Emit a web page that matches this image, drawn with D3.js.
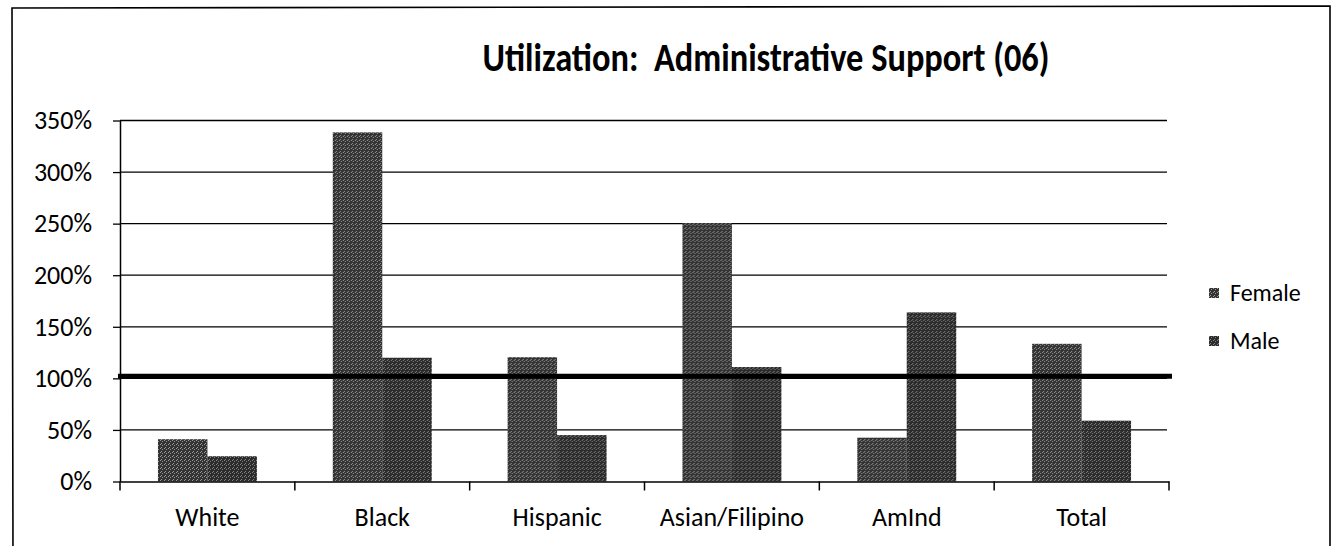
<!DOCTYPE html>
<html>
<head>
<meta charset="utf-8">
<script src="https://cdn.jsdelivr.net/npm/d3@7"></script>
<style>
  body { margin: 0; background: #fff; }
  svg { display: block; }
  text { font-family: Carlito, Calibri, Lato, "Open Sans", sans-serif; fill: #000; }
</style>
</head>
<body>
<svg id="chart" width="1333" height="546"></svg>
<script>
// Utilization by group, split by sex
const categories = ["White", "Black", "Hispanic", "Asian/Filipino", "AmInd", "Total"];
const seriesNames = ["Female", "Male"];
const femaleValues = [0.41, 3.385, 1.205, 2.505, 0.425, 1.335];
const maleValues = [0.245, 1.20, 0.45, 1.11, 1.64, 0.59];
const yTickValues = [0, 0.5, 1, 1.5, 2, 2.5, 3, 3.5];
const targetLevel = 1.02;
const titleText = "Utilization:  Administrative Support (06)";

const svg = d3.select("#chart");
const plot = { left: 120, right: 1169, top: 120.5, bottom: 481.5 };
const fontStack = "Carlito, Calibri, Lato, sans-serif";

const x0 = d3.scaleBand().domain(categories).range([plot.left, plot.right]).padding(0);
const x1 = d3.scaleBand().domain(seriesNames)
  .range([x0.bandwidth() * 0.217, x0.bandwidth() * 0.783]).padding(0);
const y = d3.scaleLinear().domain([0, 3.5]).range([plot.bottom, plot.top]);

// stippled fills for the bars
const defs = svg.append("defs");
function stipple(id, base, dot) {
  const p = defs.append("pattern").attr("id", id)
    .attr("patternUnits", "userSpaceOnUse").attr("width", 4).attr("height", 4);
  p.append("rect").attr("width", 4).attr("height", 4).attr("fill", base);
  [[0, 0], [2, 1], [1, 3]].forEach(([dx, dy]) =>
    p.append("rect").attr("x", dx).attr("y", dy).attr("width", 1).attr("height", 1).attr("fill", dot));
}
stipple("fill-Female", "#333333", "#9a9a9a");
stipple("fill-Male", "#2b2b2b", "#858585");

// outer frame
svg.append("path")
  .attr("d", "M13,560 L12,8 L1330,6 L1330,560")
  .attr("fill", "none").attr("stroke", "#000").attr("stroke-width", 1.6);

// title
svg.append("text")
  .attr("x", 766).attr("y", 71)
  .attr("text-anchor", "middle")
  .attr("textLength", 567)
  .attr("lengthAdjust", "spacingAndGlyphs")
  .style("font-weight", "bold")
  .style("white-space", "pre")
  .style("font-size", "41px")
  .style("font-family", fontStack)
  .text(titleText);

// horizontal gridlines
svg.append("g").selectAll("line").data(yTickValues.filter(d => d > 0)).join("line")
  .attr("x1", plot.left).attr("x2", plot.right - 2)
  .attr("y1", d => y(d)).attr("y2", d => y(d))
  .attr("stroke", "#000").attr("stroke-width", 1.3);

// y axis
const yAxis = svg.append("g").attr("transform", `translate(${plot.left},0)`)
  .call(d3.axisLeft(y).tickValues(yTickValues).tickFormat(d3.format(".0%"))
    .tickSizeInner(7).tickSizeOuter(0).tickPadding(21));
yAxis.attr("font-size", null).attr("font-family", null);
yAxis.select(".domain").attr("stroke", "#000").attr("stroke-width", 1.5);
yAxis.selectAll(".tick line").attr("stroke", "#000").attr("stroke-width", 1.3);
yAxis.selectAll("text").style("font-size", "26px").attr("fill", "#000")
  .style("font-family", fontStack);

// bars
const rows = categories.map((c, i) => ({ category: c, Female: femaleValues[i], Male: maleValues[i] }));
svg.append("g").selectAll("g").data(rows).join("g")
  .attr("transform", d => `translate(${x0(d.category)},0)`)
  .selectAll("rect")
  .data(d => seriesNames.map(s => ({ series: s, value: d[s] })))
  .join("rect")
  .attr("x", d => x1(d.series))
  .attr("width", x1.bandwidth())
  .attr("y", d => y(d.value))
  .attr("height", d => y(0) - y(d.value))
  .attr("fill", d => `url(#fill-${d.series})`);

// x axis: baseline, category boundary ticks, centred labels
const xAxis = svg.append("g").attr("transform", `translate(0,${plot.bottom})`)
  .call(d3.axisBottom(x0).tickSize(0).tickPadding(0));
xAxis.attr("font-size", null).attr("font-family", null);
xAxis.select(".domain").attr("stroke", "#000").attr("stroke-width", 1.5);
xAxis.selectAll("text").attr("y", 44).attr("dy", 0)
  .style("font-size", "26px").attr("fill", "#000")
  .style("font-family", fontStack);
const bounds = categories.map(c => x0(c)).concat([x0.range()[1]]);
xAxis.selectAll("line.bound").data(bounds).join("line").attr("class", "bound")
  .attr("x1", d => d).attr("x2", d => d).attr("y1", 0).attr("y2", 9)
  .attr("stroke", "#000").attr("stroke-width", 1.5);

// 100% utilization reference line
svg.append("line")
  .attr("x1", plot.left - 2).attr("x2", plot.right + 3)
  .attr("y1", y(targetLevel)).attr("y2", y(targetLevel))
  .attr("stroke", "#000").attr("stroke-width", 5);

// legend
const legend = svg.append("g").selectAll("g").data(seriesNames).join("g")
  .attr("transform", (d, i) => `translate(1209,${288 + i * 48})`);
legend.append("rect").attr("width", 10).attr("height", 10)
  .attr("fill", d => `url(#fill-${d})`);
legend.append("text").attr("x", 21).attr("y", 13)
  .style("font-size", "24px").style("font-family", fontStack).text(d => d);
</script>
</body>
</html>
